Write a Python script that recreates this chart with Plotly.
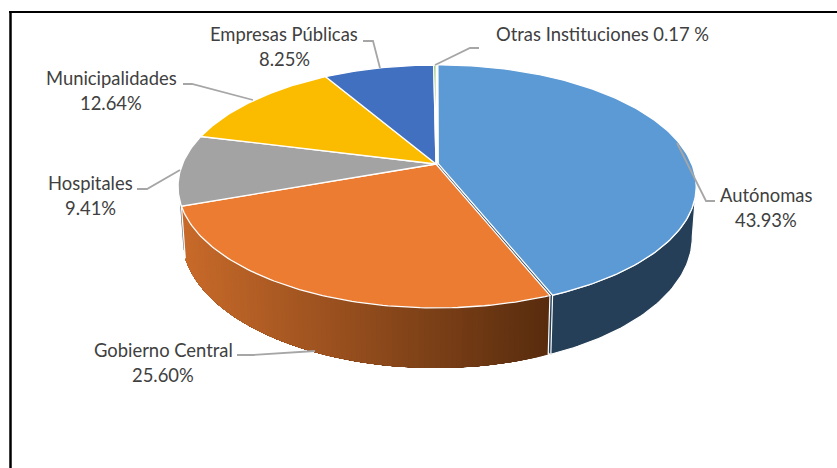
"""3D style pie chart drawn with Plotly scatter polygons."""

import math
import plotly.graph_objects as go

# Data
categories = ["Autónomas", "Gobierno Central", "Hospitales", "Municipalidades",
              "Empresas Públicas", "Otras Instituciones"]
values = [43.93, 25.60, 9.41, 12.64, 8.25, 0.17]

# Style
top_colors = ["#5B9AD5", "#EB7C31", "#A3A3A3", "#FBBC00", "#4270C0", "#70AD47"]
wall_colors = ["#243F57", None, "#6E6E6E", "#A88000", "#2A4A80", "#4A7030"]
orange_left = (200, 106, 42)
orange_right = (88, 44, 14)
label_color = "#404040"
leader_color = "#A6A6A6"

# Projection of the disc to pixels
CX, CY = 436, 164
A, B, K = 253.5, 117.3, 0.185
DEPTH = 49
TAPER = 0.985
EXPLODE = [0.009, 0, 0, 0, 0, 0]


def project(theta, r=1.0, bottom=False, off=(0.0, 0.0)):
    u = r * math.sin(math.radians(theta)) + off[0]
    v = r * math.cos(math.radians(theta)) + off[1]
    s = 1 / (1 + K * v)
    if bottom:
        return CX + A * u * s * TAPER, CY - B * v * s + DEPTH * s
    return CX + A * u * s, CY - B * v * s


def arc(start, end, bottom=False, off=(0.0, 0.0)):
    n = max(2, int(abs(end - start) / 1.0) + 2)
    return [project(start + (end - start) * i / (n - 1), 1.0, bottom, off) for i in range(n)]


def poly(fig, pts, fill=None, line="white", width=1.5):
    fig.add_trace(go.Scatter(
        x=[p[0] for p in pts] + [pts[0][0]],
        y=[p[1] for p in pts] + [pts[0][1]],
        mode="lines",
        fill="toself" if fill else "none",
        fillcolor=fill,
        line=dict(color=line, width=width),
        hoverinfo="skip",
        showlegend=False,
    ))


# Slice angles, clockwise from the top
total = sum(values)
edges = [0.0]
for val in values:
    edges.append(edges[-1] + val / total * 360)

offsets = []
for i in range(len(values)):
    mid = math.radians((edges[i] + edges[i + 1]) / 2)
    offsets.append((EXPLODE[i] * math.sin(mid), EXPLODE[i] * math.cos(mid)))

# the wall is only seen on the front part of the disc
front_start = math.degrees(math.acos(-K))
front_end = 360 - front_start

fig = go.Figure()

# cut face of the pulled out slice
off = offsets[0]
poly(fig, [project(0, 0, False, off), project(edges[1], 1, False, off),
           project(edges[1], 1, True, off), project(0, 0, True, off)],
     fill=wall_colors[0], line=wall_colors[0], width=1)

# walls
for i in range(len(values)):
    a0 = max(edges[i], front_start)
    a1 = min(edges[i + 1], front_end)
    if a1 <= a0:
        continue
    if wall_colors[i]:
        poly(fig, arc(a0, a1, False, offsets[i]) + arc(a1, a0, True, offsets[i]),
             fill=wall_colors[i], line="white", width=1.2)
    else:
        # gradient wall: each strip covers the rest of the wall, so no seams show
        steps = int(a1 - a0)
        left_x = project(a1)[0]
        right_x = project(a0)[0]
        for j in range(steps):
            t0 = a0 + (a1 - a0) * j / steps
            t1 = a0 + (a1 - a0) * (j + 1) / steps
            f = (project((t0 + t1) / 2)[0] - left_x) / (right_x - left_x)
            c = [round(orange_left[n] + (orange_right[n] - orange_left[n]) * f) for n in range(3)]
            poly(fig, arc(t0, a1) + arc(a1, t0, True),
                 fill=f"rgb({c[0]},{c[1]},{c[2]})", line="rgba(0,0,0,0)", width=0)
        poly(fig, [project(a0), project(a0, 1, True)], line="white", width=1.2)

# tops, the pulled out slice last
for i in [1, 2, 3, 4, 5, 0]:
    off = offsets[i]
    poly(fig, [project(0, 0, False, off)] + arc(edges[i], edges[i + 1], False, off),
         fill=top_colors[i], line="white", width=1.3)

# leader lines
leaders = [
    [(715, 201), (706, 201), (677, 143)],
    [(237, 355), (253, 355), (315, 351)],
    [(137, 189), (147, 189), (180, 170)],
    [(183, 84), (192, 84), (253, 100)],
    [(363, 41), (373, 41), (380, 68)],
    [(479, 48), (470, 48), (435, 65)],
]
for pts in leaders:
    fig.add_trace(go.Scatter(
        x=[p[0] for p in pts], y=[p[1] for p in pts], mode="lines",
        line=dict(color=leader_color, width=1.8),
        hoverinfo="skip", showlegend=False,
    ))

# labels: name and value lines
label_pos = [(766, 195, 220), (163, 350, 375), (90, 183, 208),
             (111, 78, 103), (284, 34, 59)]
annotations = []
for i, (lx, y1, y2) in enumerate(label_pos):
    annotations.append(dict(x=lx, y=y1, text=categories[i], showarrow=False))
    annotations.append(dict(x=lx, y=y2, text=f"{values[i]:.2f}%", showarrow=False))
annotations.append(dict(x=602, y=34, text=f"{categories[5]} {values[5]:.2f} %", showarrow=False))

fig.update_layout(
    width=837,
    height=468,
    margin=dict(l=0, r=0, t=0, b=0),
    paper_bgcolor="white",
    plot_bgcolor="white",
    font=dict(family="Lato, Carlito, sans-serif", size=18.4, color=label_color),
    xaxis=dict(range=[0, 837], visible=False, fixedrange=True),
    yaxis=dict(range=[468, 0], visible=False, fixedrange=True),
    annotations=annotations,
    shapes=[
        dict(type="line", x0=10.5, x1=10.5, y0=11, y1=468, line=dict(color="black", width=2.5)),
        dict(type="line", x0=9, x1=837, y0=12, y1=12, line=dict(color="black", width=2)),
    ],
)

fig.write_html("out.html", config=dict(displayModeBar=False),
               post_script="document.body.style.margin='0';")
